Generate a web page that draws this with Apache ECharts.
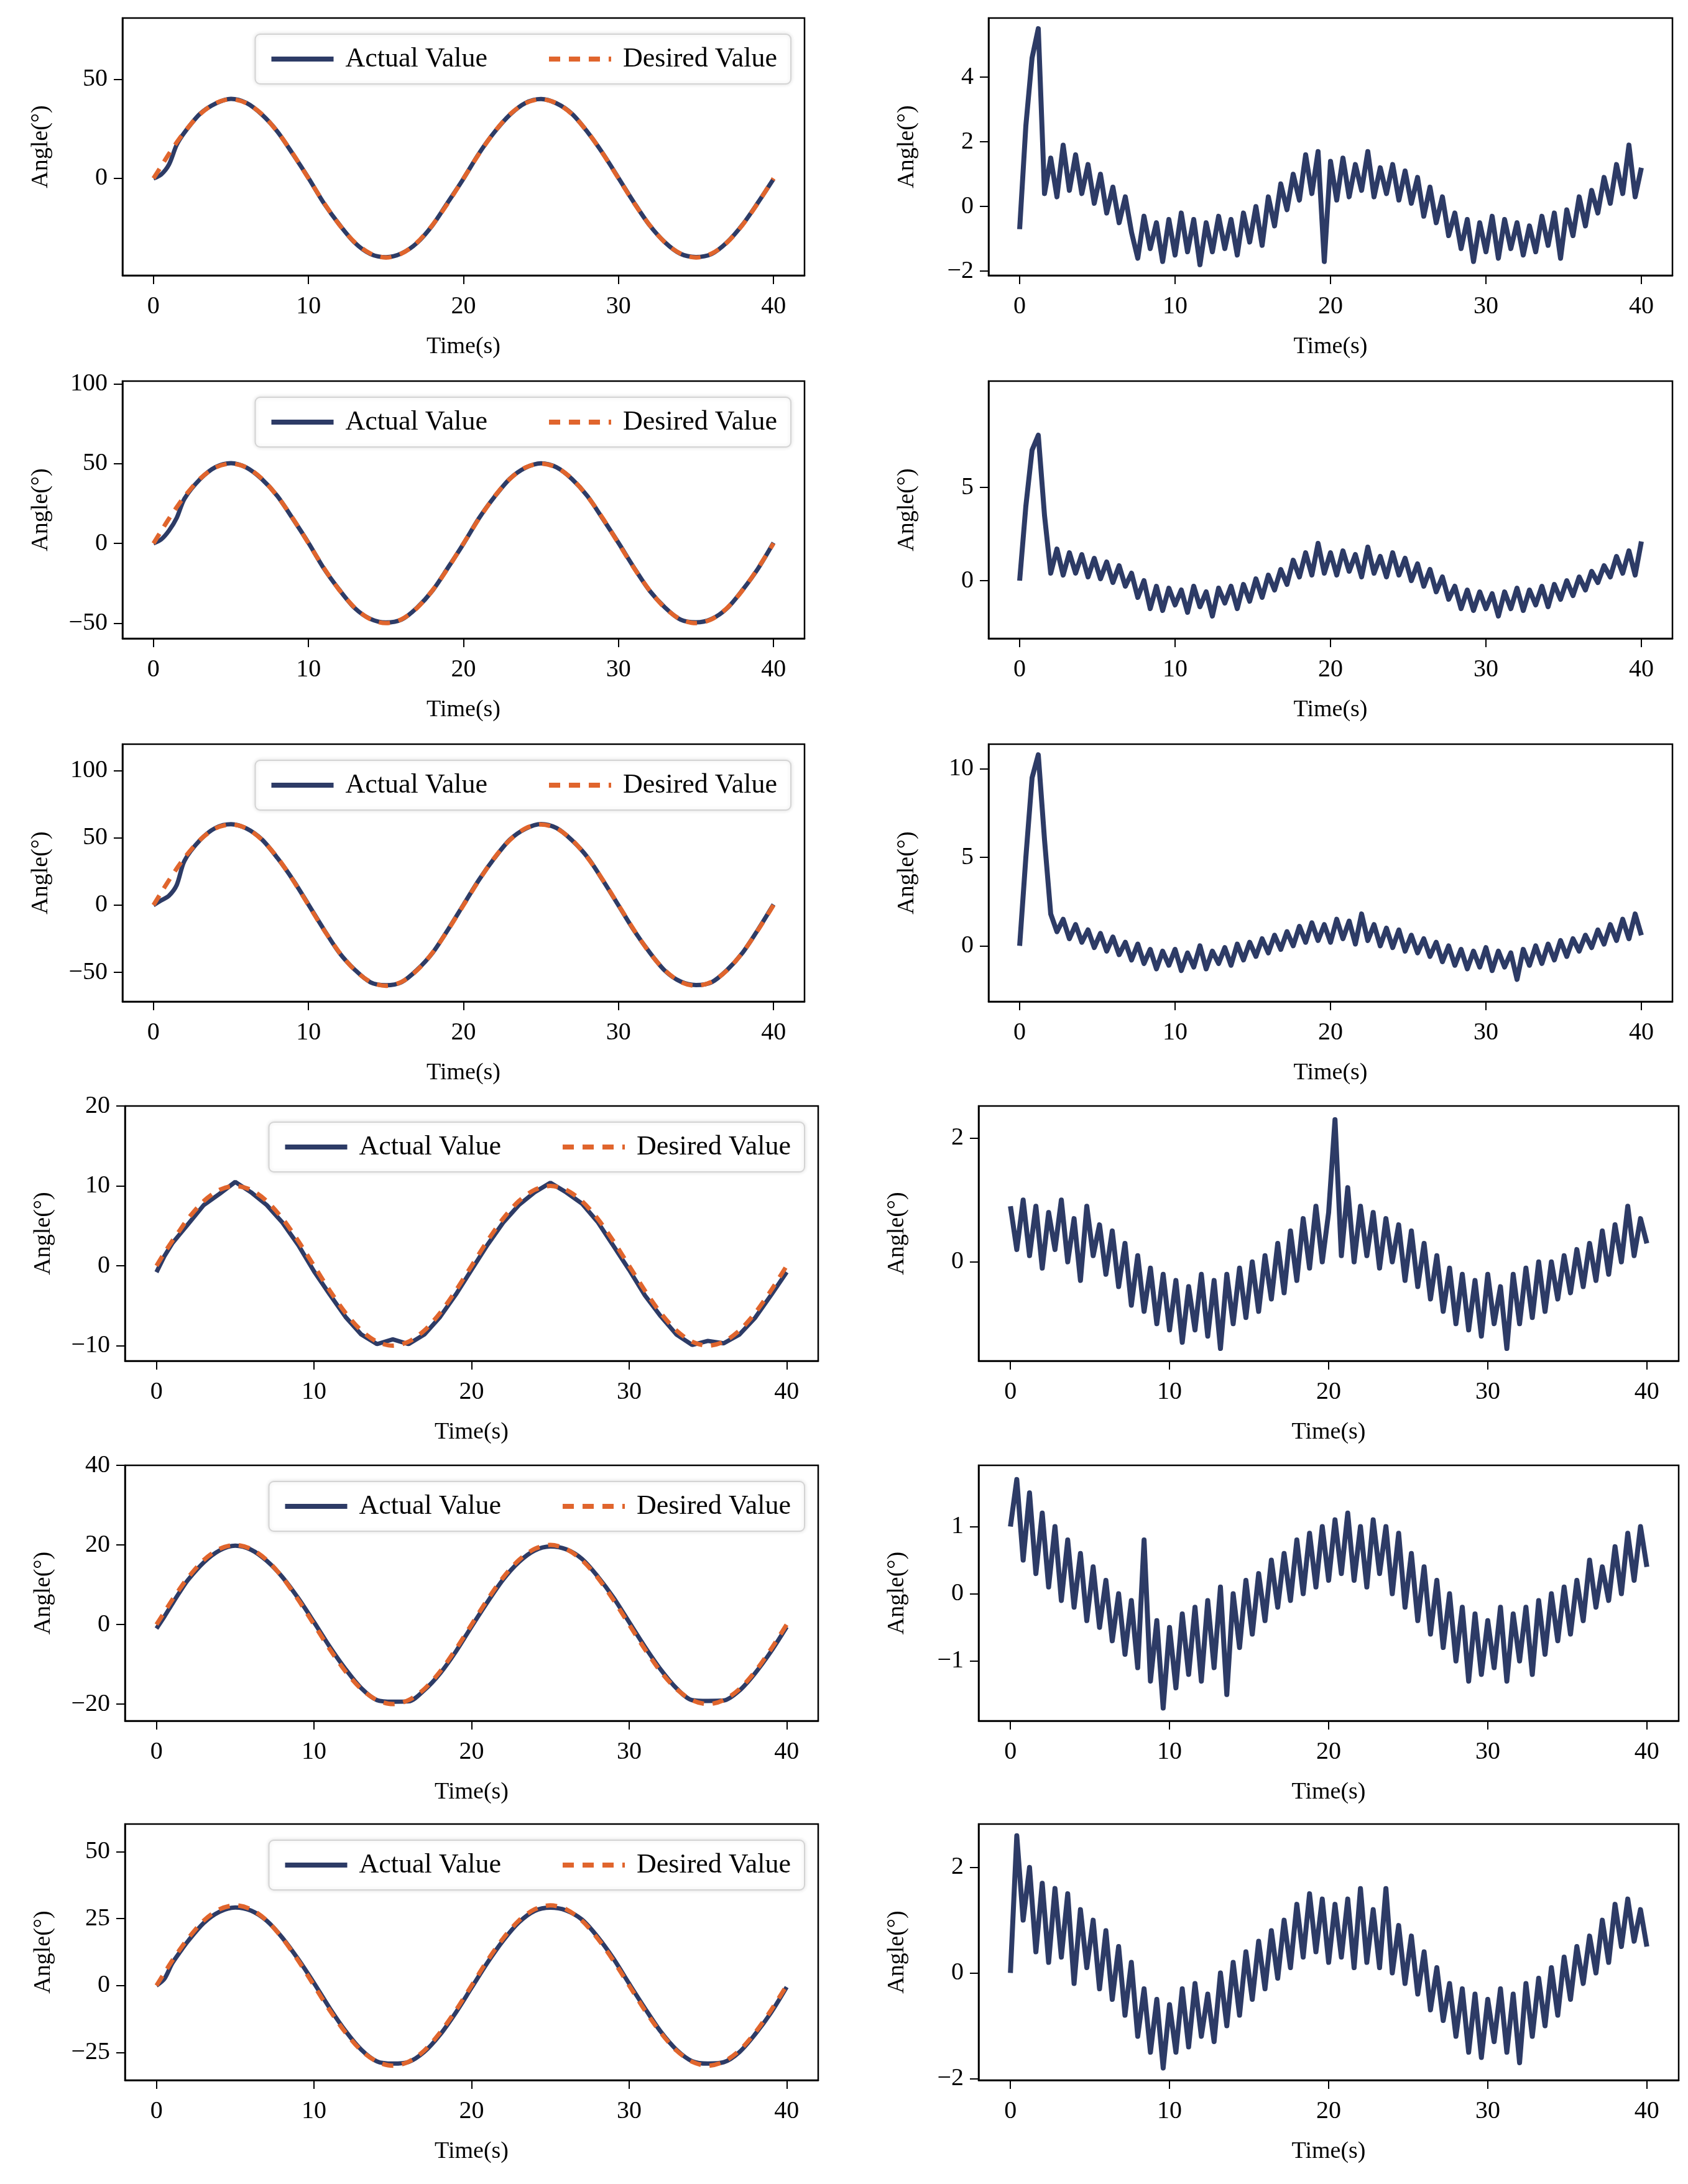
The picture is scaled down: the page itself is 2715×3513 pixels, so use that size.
<!DOCTYPE html>
<html><head><meta charset="utf-8">
<script src="https://cdn.jsdelivr.net/npm/echarts@6/dist/echarts.min.js"></script>
<style>html,body{margin:0;background:#fff}#c{width:2715px;height:3513px}</style>
</head><body><div id="c"></div>
<script>
// time grid for tracking curves (s)
const trackT = [0,0.5,1,1.5,2,3,4,5,6,7,8,9,10,11,12,13,14,15,16,17,18,19,20,21,22,23,24,25,26,27,28,29,30,31,32,33,34,35,36,37,38,39,40];
const desired1 = [0,6.2,12.4,18.2,23.5,32.4,38.0,40,38.0,32.4,23.5,12.4,0,-12.4,-23.5,-32.4,-38.0,-40,-38.0,-32.4,-23.5,-12.4,0,12.4,23.5,32.4,38.0,40,38.0,32.4,23.5,12.4,0,-12.4,-23.5,-32.4,-38.0,-40,-38.0,-32.4,-23.5,-12.4,0];
const actual1  = [0,2.0,7.0,17.0,23.2,32.6,37.8,40.2,38.1,32.2,23.6,12.2,0.2,-12.6,-23.4,-32.6,-38.2,-39.8,-37.9,-32.6,-23.7,-12.0,-0.1,12.6,23.4,32.2,38.1,40.1,37.9,32.6,23.4,12.5,0.2,-12.2,-23.6,-32.3,-38.1,-39.7,-38.2,-32.3,-23.4,-12.2,-0.3];
const desired2 = [0,7.8,15.5,22.7,29.4,40.5,47.6,50,47.6,40.5,29.4,15.5,0,-15.5,-29.4,-40.5,-47.6,-50,-47.6,-40.5,-29.4,-15.5,0,15.5,29.4,40.5,47.6,50,47.6,40.5,29.4,15.5,0,-15.5,-29.4,-40.5,-47.6,-50,-47.6,-40.5,-29.4,-15.5,0];
const actual2  = [0,2.5,8.0,16.0,28.0,40.2,47.8,50.3,47.5,40.2,29.6,15.3,0.3,-15.8,-29.2,-40.7,-47.4,-49.6,-47.8,-40.3,-29.6,-15.2,-0.2,15.8,29.2,40.6,47.4,50.2,47.7,40.3,29.6,15.2,0.3,-15.2,-29.6,-40.2,-47.8,-49.5,-47.4,-40.7,-29.2,-15.8,0.4];
const desired3 = [0,9.4,18.5,27.2,35.3,48.5,57.1,60,57.1,48.5,35.3,18.5,0,-18.5,-35.3,-48.5,-57.1,-60,-57.1,-48.5,-35.3,-18.5,0,18.5,35.3,48.5,57.1,60,57.1,48.5,35.3,18.5,0,-18.5,-35.3,-48.5,-57.1,-60,-57.1,-48.5,-35.3,-18.5,0];
const actual3  = [0,3.5,7.0,15.0,33.0,48.3,57.4,60.2,57.0,48.8,35.0,18.8,0.4,-18.2,-35.6,-48.2,-57.4,-59.6,-57.3,-48.2,-35.6,-18.2,0.3,18.8,35.0,48.8,56.8,60.3,57.3,48.2,35.6,18.3,-0.2,-18.8,-35.0,-48.8,-56.8,-59.4,-57.4,-48.3,-35.5,-18.2,0.5];
const desired4 = [0,1.6,3.1,4.5,5.9,8.1,9.5,10,9.5,8.1,5.9,3.1,0,-3.1,-5.9,-8.1,-9.5,-10,-9.5,-8.1,-5.9,-3.1,0,3.1,5.9,8.1,9.5,10,9.5,8.1,5.9,3.1,0,-3.1,-5.9,-8.1,-9.5,-10,-9.5,-8.1,-5.9,-3.1,0];
const actual4  = [-0.8,1.2,2.8,4.0,5.2,7.6,9.0,10.5,9.2,7.6,5.4,2.6,-0.7,-3.6,-6.4,-8.6,-9.8,-9.2,-9.8,-8.6,-6.4,-3.6,-0.5,2.6,5.4,7.6,9.2,10.4,9.2,7.8,5.5,2.5,-0.5,-3.7,-6.3,-8.6,-9.9,-9.4,-9.7,-8.6,-6.5,-3.7,-0.8];
const desired5 = [0,3.1,6.2,9.1,11.8,16.2,19.0,20,19.0,16.2,11.8,6.2,0,-6.2,-11.8,-16.2,-19.0,-20,-19.0,-16.2,-11.8,-6.2,0,6.2,11.8,16.2,19.0,20,19.0,16.2,11.8,6.2,0,-6.2,-11.8,-16.2,-19.0,-20,-19.0,-16.2,-11.8,-6.2,0];
const actual5  = [-1.0,2.0,5.2,8.3,11.2,15.6,18.6,19.8,18.8,16.0,11.9,6.6,0.6,-5.6,-11.2,-16.0,-19.0,-19.4,-19.3,-16.5,-12.3,-6.8,-0.5,5.6,11.3,15.7,18.6,19.6,18.9,16.5,12.1,6.8,0.6,-5.6,-11.3,-16.0,-19.0,-19.2,-19.1,-16.6,-12.2,-6.8,-0.6];
const desired6 = [0,4.7,9.3,13.6,17.6,24.3,28.5,30,28.5,24.3,17.6,9.3,0,-9.3,-17.6,-24.3,-28.5,-30,-28.5,-24.3,-17.6,-9.3,0,9.3,17.6,24.3,28.5,30,28.5,24.3,17.6,9.3,0,-9.3,-17.6,-24.3,-28.5,-30,-28.5,-24.3,-17.6,-9.3,0];
const actual6  = [0,2.5,8.3,12.6,16.6,23.4,27.6,29.2,28.0,24.2,17.8,9.8,0.9,-8.5,-17.0,-24.0,-28.4,-29.2,-28.6,-24.8,-18.4,-10.1,-0.8,8.5,16.8,23.6,27.9,29.1,28.1,24.7,18.2,10.1,0.7,-8.5,-17.2,-24.0,-28.3,-29.2,-28.7,-24.9,-18.2,-10.2,-0.6];
// error curves, sampled every 0.4 s from 0 to 40
const err1 = [-0.7,2.5,4.6,5.5,0.4,1.5,0.3,1.9,0.5,1.6,0.4,1.3,0.1,1.0,-0.2,0.6,-0.5,0.3,-0.8,-1.6,-0.3,-1.3,-0.5,-1.7,-0.4,-1.5,-0.2,-1.4,-0.4,-1.8,-0.5,-1.4,-0.3,-1.3,-0.4,-1.5,-0.2,-1.1,0.0,-1.2,0.3,-0.6,0.7,-0.1,1.0,0.2,1.6,0.4,1.7,-1.7,1.4,0.2,1.5,0.3,1.3,0.5,1.7,0.3,1.2,0.4,1.3,0.2,1.1,0.1,0.9,-0.3,0.6,-0.5,0.3,-0.9,-0.2,-1.3,-0.4,-1.7,-0.5,-1.4,-0.3,-1.6,-0.4,-1.3,-0.5,-1.5,-0.6,-1.4,-0.3,-1.2,-0.2,-1.6,-0.1,-0.9,0.3,-0.6,0.5,-0.2,0.9,0.1,1.3,0.4,1.9,0.3,1.2];
const err2 = [0,4.0,7.0,7.8,3.5,0.4,1.7,0.3,1.5,0.4,1.4,0.2,1.2,0.1,1.0,-0.1,0.8,-0.3,0.4,-0.9,0.0,-1.5,-0.3,-1.6,-0.4,-1.3,-0.5,-1.7,-0.3,-1.4,-0.6,-1.9,-0.4,-1.2,-0.3,-1.5,-0.2,-1.1,0.1,-0.9,0.3,-0.5,0.6,-0.2,1.1,0.2,1.5,0.3,2.0,0.4,1.5,0.3,1.6,0.5,1.4,0.2,1.8,0.4,1.3,0.2,1.5,0.3,1.2,0.0,0.9,-0.3,0.6,-0.6,0.2,-1.0,-0.3,-1.5,-0.5,-1.6,-0.6,-1.5,-0.7,-1.9,-0.6,-1.5,-0.4,-1.6,-0.5,-1.3,-0.3,-1.4,-0.2,-1.0,0.0,-0.8,0.2,-0.5,0.5,-0.1,0.8,0.2,1.3,0.4,1.6,0.3,2.1];
const err3 = [0,5.0,9.5,10.8,6.0,1.8,0.8,1.5,0.4,1.2,0.2,0.9,-0.1,0.7,-0.3,0.5,-0.5,0.2,-0.8,0.1,-1.0,-0.2,-1.3,-0.3,-1.1,-0.2,-1.4,-0.4,-1.2,0.0,-1.3,-0.3,-1.0,-0.1,-1.1,0.1,-0.8,0.2,-0.6,0.4,-0.4,0.6,-0.2,0.8,0.0,1.1,0.2,1.3,0.3,1.2,0.2,1.5,0.4,1.4,0.1,1.8,0.3,1.2,0.0,1.0,-0.1,0.9,-0.3,0.6,-0.4,0.4,-0.6,0.2,-0.9,0.0,-1.1,-0.2,-1.3,-0.3,-1.2,-0.1,-1.4,-0.3,-1.2,-0.4,-1.9,-0.2,-1.1,0.0,-1.0,0.1,-0.8,0.3,-0.6,0.4,-0.3,0.6,-0.1,0.9,0.1,1.2,0.3,1.5,0.4,1.8,0.6];
const err4 = [0.9,0.2,1.0,0.1,0.9,-0.1,0.8,0.2,1.0,0.0,0.7,-0.3,0.9,0.1,0.6,-0.2,0.5,-0.4,0.3,-0.7,0.1,-0.8,-0.1,-1.0,-0.2,-1.1,-0.3,-1.3,-0.4,-1.1,-0.2,-1.2,-0.3,-1.4,-0.2,-1.0,-0.1,-0.9,0.0,-0.8,0.1,-0.6,0.3,-0.5,0.5,-0.3,0.7,-0.1,0.9,0.0,0.8,2.3,0.1,1.2,0.0,0.9,0.1,0.8,-0.1,0.7,0.0,0.6,-0.3,0.5,-0.4,0.3,-0.6,0.1,-0.8,-0.1,-1.0,-0.2,-1.1,-0.3,-1.2,-0.2,-1.0,-0.4,-1.4,-0.2,-1.0,-0.1,-0.9,0.0,-0.8,0.0,-0.6,0.1,-0.5,0.2,-0.4,0.3,-0.3,0.5,-0.2,0.6,0.0,0.9,0.1,0.7,0.3];
const err5 = [1.0,1.7,0.5,1.5,0.3,1.2,0.1,1.0,-0.1,0.8,-0.2,0.6,-0.4,0.4,-0.5,0.2,-0.7,0.0,-0.9,-0.1,-1.1,0.8,-1.3,-0.4,-1.7,-0.5,-1.4,-0.3,-1.2,-0.2,-1.3,-0.1,-1.1,0.1,-1.5,0.0,-0.8,0.2,-0.6,0.3,-0.4,0.5,-0.2,0.6,-0.1,0.8,0.0,0.9,0.1,1.0,0.2,1.1,0.3,1.2,0.2,1.0,0.1,1.1,0.3,1.0,0.0,0.9,-0.2,0.6,-0.4,0.4,-0.6,0.2,-0.8,0.0,-1.0,-0.2,-1.3,-0.3,-1.2,-0.4,-1.1,-0.2,-1.3,-0.3,-1.0,-0.2,-1.2,-0.1,-0.9,0.0,-0.7,0.1,-0.6,0.2,-0.4,0.5,-0.2,0.4,-0.1,0.7,0.0,0.9,0.2,1.0,0.4];
const err6 = [0.0,2.6,1.0,2.0,0.4,1.7,0.2,1.6,0.3,1.5,-0.2,1.2,0.1,1.0,-0.3,0.8,-0.5,0.5,-0.8,0.2,-1.2,-0.3,-1.5,-0.5,-1.8,-0.6,-1.5,-0.3,-1.4,-0.2,-1.2,-0.4,-1.3,0.0,-1.0,0.2,-0.8,0.4,-0.5,0.6,-0.3,0.8,-0.1,1.0,0.1,1.3,0.3,1.5,0.4,1.4,0.2,1.3,0.3,1.4,0.1,1.6,0.2,1.2,0.1,1.6,0.0,0.9,-0.2,0.7,-0.4,0.4,-0.7,0.1,-0.9,-0.2,-1.2,-0.3,-1.5,-0.4,-1.6,-0.5,-1.3,-0.3,-1.5,-0.4,-1.7,-0.2,-1.2,-0.1,-1.0,0.1,-0.8,0.3,-0.5,0.5,-0.2,0.7,0.0,1.0,0.2,1.3,0.5,1.4,0.6,1.2,0.5];
// tick labels
const xTicks = [0,10,20,30,40];
const leftTicks = [[0,50],[-50,0,50,100],[-50,0,50,100],[-10,0,10,20],[-20,0,20,40],[-25,0,25,50]];
const rightTicks = [[-2,0,2,4],[0,5],[0,5,10],[0,2],[-1,0,1],[-2,0,2]];
const leftRange = [[-49,81],[-59.6,101.7],[-71.7,119.7],[-11.9,20],[-24.2,40],[-35.4,60.4]];
const rightRange = [[-2.13,5.83],[-3.1,10.7],[-3.15,11.4],[-1.6,2.52],[-1.89,1.91],[-2.03,2.82]];
const desired = [desired1,desired2,desired3,desired4,desired5,desired6];
const actual = [actual1,actual2,actual3,actual4,actual5,actual6];
const errs = [err1,err2,err3,err4,err5,err6];
const errT = errs[0].map((_, i) => +(i * 0.4).toFixed(1));

const rowBox = [[29,414],[613,414],[1197,414],[1779,410],[2357,411],[2934,412]];
const leftBox = [[197,1097],[197,1097],[197,1097],[201,1115],[201,1115],[201,1115]];
const rightBox = [[1590,1100],[1590,1100],[1590,1100],[1574,1126],[1574,1126],[1574,1126]];
const NAVY = '#2d3b66', ORANGE = '#e0652d', FONT = 'Liberation Serif';
const fmt = v => String(v).replace('-', '\u2212');
const axLine = {show: true, onZero: false, lineStyle: {color: '#000', width: 2.5}};

const grid = [], xAxis = [], yAxis = [], series = [], legend = [];
function addPanel(box, top, h, yr, ticks) {
  const i = grid.length;
  grid.push({left: box[0], width: box[1], top: top, height: h, show: true, borderColor: '#000', borderWidth: 2.5, containLabel: false});
  xAxis.push({type: 'value', gridIndex: i, min: -2, max: 42, name: 'Time(s)', nameLocation: 'middle', nameGap: 96,
    nameTextStyle: {fontFamily: FONT, fontSize: 38, color: '#000'},
    axisLine: axLine, splitLine: {show: false},
    axisTick: {show: true, length: 14, lineStyle: {color: '#000', width: 2}, customValues: xTicks},
    axisLabel: {fontFamily: FONT, fontSize: 40, color: '#000', margin: 30, customValues: xTicks, formatter: fmt}});
  yAxis.push({type: 'value', gridIndex: i, min: yr[0], max: yr[1], name: 'Angle(°)', nameLocation: 'middle', nameGap: 112,
    nameTextStyle: {fontFamily: FONT, fontSize: 38, color: '#000'},
    axisLine: axLine, splitLine: {show: false},
    axisTick: {show: true, length: 14, lineStyle: {color: '#000', width: 2}, customValues: ticks},
    axisLabel: {fontFamily: FONT, fontSize: 40, color: '#000', margin: 24, customValues: ticks, formatter: fmt}});
  return i;
}
for (let r = 0; r < 6; r++) {
  const [top, h] = rowBox[r];
  const li = addPanel(leftBox[r], top, h, leftRange[r], leftTicks[r]);
  series.push({name: 'Actual Value', type: 'line', xAxisIndex: li, yAxisIndex: li, symbol: 'none', smooth: r !== 3 ? 0.3 : false,
    data: trackT.map((t, k) => [t, actual[r][k]]), lineStyle: {color: NAVY, width: 7}, itemStyle: {color: NAVY}});
  series.push({name: 'Desired Value', type: 'line', xAxisIndex: li, yAxisIndex: li, symbol: 'none', smooth: 0.3,
    data: trackT.map((t, k) => [t, desired[r][k]]), lineStyle: {color: ORANGE, width: 7, type: [18, 14]}, itemStyle: {color: ORANGE}});
  const lb = leftBox[r];
  legend.push({show: true, right: 2715 - (lb[0] + lb[1]) + 22, top: top + 26, orient: 'horizontal',
    data: ['Actual Value', 'Desired Value'], itemWidth: 100, itemHeight: 20, itemGap: 95,
    itemStyle: {opacity: 0}, lineStyle: {width: 8},
    textStyle: {fontFamily: FONT, fontSize: 44, color: '#000', padding: [0, 0, 0, 14]},
    backgroundColor: '#fff', borderColor: '#d4d4d4', borderWidth: 2, borderRadius: 8, padding: [18, 22, 18, 22],
    shadowColor: 'rgba(0,0,0,0.12)', shadowBlur: 6});
  const ri = addPanel(rightBox[r], top, h, rightRange[r], rightTicks[r]);
  series.push({name: 'Error', type: 'line', xAxisIndex: ri, yAxisIndex: ri, symbol: 'none',
    data: errT.map((t, k) => [t, errs[r][k]]), lineStyle: {color: NAVY, width: 8, join: 'round'}, itemStyle: {color: NAVY}});
}
const chart = echarts.init(document.getElementById('c'), null, {renderer: 'canvas'});
chart.setOption({backgroundColor: '#fff', animation: false, grid, xAxis, yAxis, series, legend});
</script></body></html>
